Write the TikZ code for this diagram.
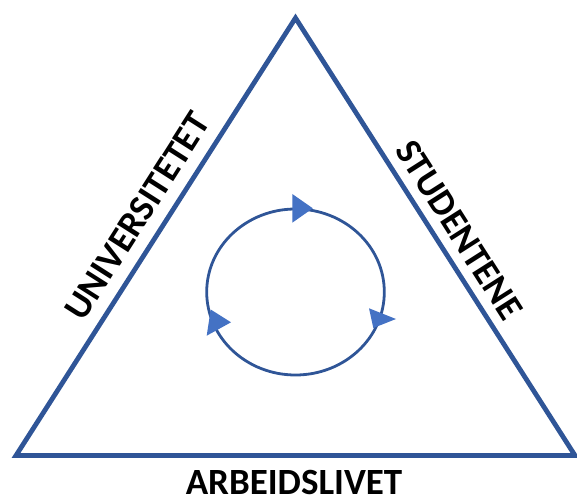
\documentclass[tikz,border=0pt]{standalone}
\usepackage{fontspec}
\setmainfont{Carlito}
\definecolor{linedark}{HTML}{2F5597}
\definecolor{headfill}{HTML}{4472C4}
\begin{document}
\begin{tikzpicture}[x=1bp,y=-1bp,
  sidelabel/.style={font=\fontsize{37bp}{44bp}\selectfont\bfseries, text=black, inner sep=0pt},
  frame/.style={draw=linedark, line width=4.8bp, line join=miter},
  cycleline/.style={draw=linedark, line width=2.8bp},
  headtri/.style={fill=headfill, draw=none}]
\useasboundingbox (0,0) rectangle (577,496);
\coordinate (apex) at (295.5,18);
\coordinate (bl) at (16,455.5);
\coordinate (br) at (575,455.5);
\draw[frame] (apex) -- (bl) -- (br) -- cycle;
\draw[cycleline] (295.5,292) ellipse [x radius=88.8, y radius=83];
\fill[headtri] (292.3,194) -- (292.3,222.7) -- (312.8,208.3) -- cycle;
\fill[headtri] (369,308.3) -- (373.3,328) -- (396,319) -- cycle;
\fill[headtri] (210.7,309.5) -- (206.7,335.7) -- (231,322.3) -- cycle;
\node[sidelabel, rotate=57.5] (univ) at (137.5,216) {UNIVERSITETET};
\node[sidelabel, rotate=-57.5] (stud) at (459.5,230) {STUDENTENE};
\node[sidelabel, anchor=base] (arb) at (294,494) {ARBEIDSLIVET};
\end{tikzpicture}
\end{document}
